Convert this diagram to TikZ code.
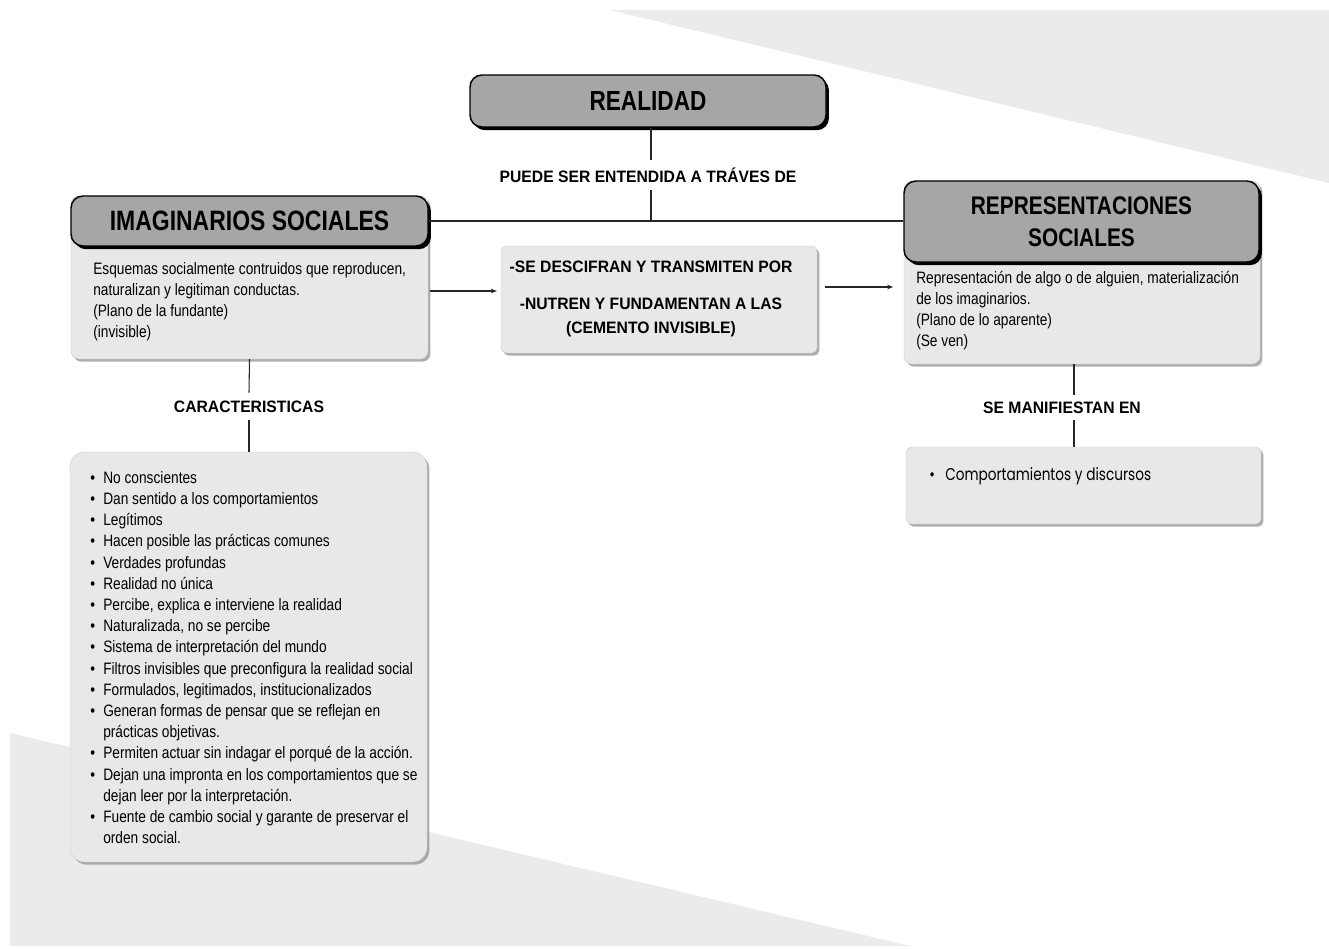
\documentclass[tikz,border=0pt]{standalone}
\usepackage{fontspec}
\setmainfont{Liberation Sans}
\newfontfamily\hfont{Liberation Sans Bold}[FakeStretch=0.82]
\newfontfamily\lfont{Liberation Sans Bold}[FakeStretch=0.95]
\newfontfamily\bfont{Liberation Sans}[FakeStretch=0.83]
\newfontfamily\pfont{Poppins}[FakeStretch=0.8]
\usetikzlibrary{shadows,arrows.meta}
\definecolor{hgrey}{HTML}{A6A6A6}
\definecolor{cgrey}{HTML}{E8E8E8}
\definecolor{bgrey}{HTML}{EBEBEB}
\newcommand{\bul}{\makebox[9.75pt][l]{\textbullet}}
\newcommand{\ind}{\hspace*{9.75pt}}
\tikzset{
  hdr/.style={draw=black, line width=1.1pt, fill=hgrey, rounded corners=9pt,
    inner sep=0pt, align=center,
    drop shadow={shadow xshift=2.2pt, shadow yshift=-2.4pt, fill=black, opacity=1}},
  card/.style={draw=black!20, line width=0.3pt, fill=cgrey, rounded corners=#1, inner sep=0pt,
    drop shadow={shadow xshift=1.8pt, shadow yshift=-2pt, fill=black!45, opacity=0.7}},
  card/.default=6pt,
  lbl/.style={inner sep=0pt, minimum height=#1, font=\lfont\fontsize{12.4pt}{14pt}\selectfont},
  lbl/.default=22pt,
  body/.style={inner sep=0pt, anchor=north west, align=left,
    font=\bfont\fontsize{12.4pt}{15.75pt}\selectfont},
  conn/.style={line width=0.8pt, black!85},
  arr/.style={conn, -{Stealth[length=4.5pt,width=3.5pt]}},
}
\begin{document}
\begin{tikzpicture}[x=0.75pt,y=-0.75pt]
\useasboundingbox (0,0) rectangle (1329,949);
\fill[white] (0,0) rectangle (1329,949);
\fill[bgrey] (610,10) -- (1329,10) -- (1329,183) -- cycle;
\fill[bgrey] (10,733) -- (910,946) -- (10,946) -- cycle;

% REALIDAD
\node[hdr, minimum width=356*0.75pt, minimum height=52*0.75pt,
  font=\hfont\fontsize{20.7pt}{24pt}\selectfont] (real) at (648,101) {REALIDAD};

% IMAGINARIOS SOCIALES card
\node[card=6pt, minimum width=357*0.75pt, minimum height=163*0.75pt] (imgbody) at (249.5,277.5) {};
\node[hdr, minimum width=357*0.75pt, minimum height=50*0.75pt,
  font=\hfont\fontsize{21pt}{24pt}\selectfont] (imghdr) at (249.5,221) {IMAGINARIOS SOCIALES};
\node[body] (imgtxt) at (93,262) {Esquemas socialmente contruidos que reproducen,\\
naturalizan y legitiman conductas.\\
(Plano de la fundante)\\
(invisible)};

% REPRESENTACIONES SOCIALES card
\node[card=6pt, minimum width=356*0.75pt, minimum height=183*0.75pt] (repbody) at (1082,272.5) {};
\node[hdr, minimum width=355*0.75pt, minimum height=81*0.75pt,
  font=\hfont\fontsize{19.1pt}{24pt}\selectfont] (rephdr) at (1081.5,221.5) {REPRESENTACIONES\\SOCIALES};
\node[body] (reptxt) at (916,271) {Representación de algo o de alguien, materialización\\
de los imaginarios.\\
(Plano de lo aparente)\\
(Se ven)};

% middle box
\node[card=4pt, minimum width=316*0.75pt, minimum height=107*0.75pt] (mid) at (659,299.5) {};
\node[inner sep=0pt, align=center, font=\lfont\fontsize{12.4pt}{18pt}\selectfont] (midtxt) at (651,298.5)
  {-SE DESCIFRAN Y TRANSMITEN POR\\[9.75pt]-NUTREN Y FUNDAMENTAN A LAS\\(CEMENTO INVISIBLE)};

% labels
\node[lbl=30*0.75pt] (l1) at (648,175) {PUEDE SER ENTENDIDA A TRÁVES DE};
\node[lbl=27*0.75pt] (l2) at (249,406.5) {CARACTERISTICAS};
\node[lbl=25*0.75pt] (l3) at (1062,407.5) {SE MANIFIESTAN EN};

% list box
\node[card=11pt, minimum width=357*0.75pt, minimum height=410*0.75pt] (list) at (248.5,657) {};
\node[inner sep=0pt, anchor=north west, align=left,
  font=\bfont\fontsize{12.4pt}{15.9pt}\selectfont] (listtxt) at (90,471) {%
\bul No conscientes\\
\bul Dan sentido a los comportamientos\\
\bul Legítimos\\
\bul Hacen posible las prácticas comunes\\
\bul Verdades profundas\\
\bul Realidad no única\\
\bul Percibe, explica e interviene la realidad\\
\bul Naturalizada, no se percibe\\
\bul Sistema de interpretación del mundo\\
\bul Filtros invisibles que preconfigura la realidad social\\
\bul Formulados, legitimados, institucionalizados\\
\bul Generan formas de pensar que se reflejan en\\
\ind prácticas objetivas.\\
\bul Permiten actuar sin indagar el porqué de la acción.\\
\bul Dejan una impronta en los comportamientos que se\\
\ind dejan leer por la interpretación.\\
\bul Fuente de cambio social y garante de preservar el\\
\ind orden social.};

% manifest box
\node[card=4pt, minimum width=355*0.75pt, minimum height=77*0.75pt] (man) at (1083.5,485.5) {};
\node[inner sep=0pt, anchor=west, font=\pfont\fontsize{12.8pt}{14pt}\selectfont] (mantxt) at (929,476)
  {\makebox[12pt][l]{\textbullet}Comportamientos y discursos};

% connectors
\coordinate (c1) at (651,0);
\coordinate (a1) at (0,291);
\coordinate (a2) at (0,287);
\coordinate (c3) at (1074,0);
\draw[conn] (real.south -| c1) -- (l1.north -| c1);
\draw[conn] (l1.south -| c1) -- (imghdr.east -| c1);
\draw[conn] (imghdr.east) -- (rephdr.west |- imghdr.east);
\draw[arr, shorten <=1.5pt, shorten >=3pt] (imgbody.east |- a1) -- (mid.west |- a1);
\draw[arr, shorten <=6pt, shorten >=8pt] (mid.east |- a2) -- (repbody.west |- a2);
\draw[conn] (imgbody.south) -- (l2.north);
\draw[conn] (l2.south) -- (list.north -| l2.south);
\draw[conn] (repbody.south -| c3) -- (l3.north -| c3);
\draw[conn] (l3.south -| c3) -- (man.north -| c3);
\end{tikzpicture}
\end{document}
